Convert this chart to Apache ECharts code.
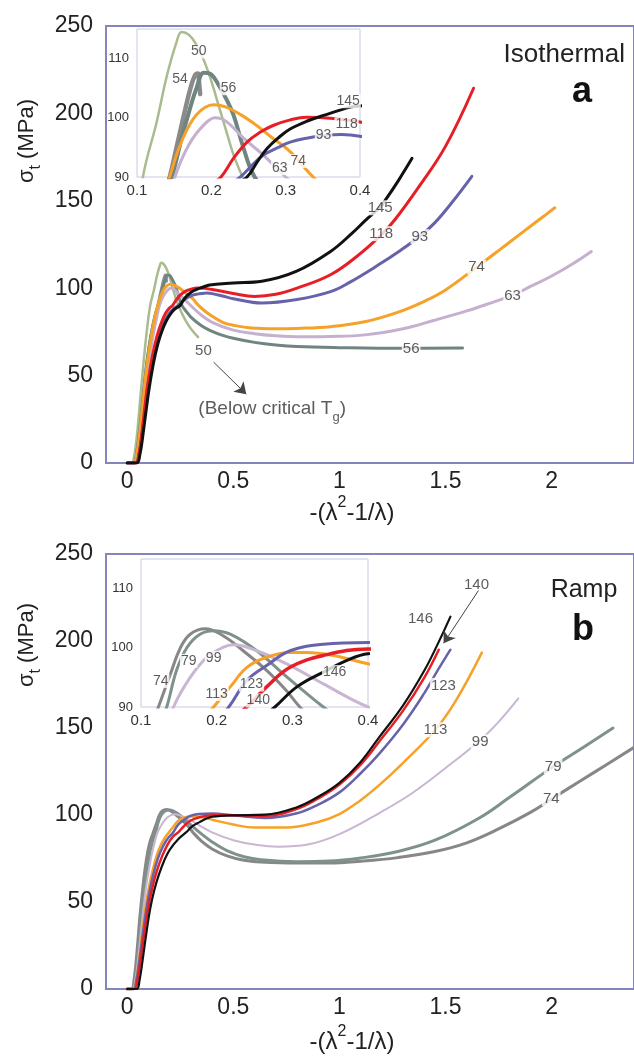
<!DOCTYPE html>
<html>
<head>
<meta charset="utf-8">
<script src="https://cdn.jsdelivr.net/npm/echarts@6/dist/echarts.min.js"></script>
<style>
html,body{margin:0;padding:0;background:#fff;}
#chart{width:634px;height:1059px;}
</style>
</head>
<body>
<div id="chart"></div>
<script>
// tick labels
var mainXTicks = [0, 0.5, 1, 1.5, 2];
var insetXTicks = [0.1, 0.2, 0.3, 0.4];
var insetYTicks = [90, 100, 110];

// (a) isothermal curves, [strain, stress]
var iso50 = [[0,0],[0.02,0],[0.03,2],[0.045,15],[0.06,35],[0.075,55],[0.09,73],[0.108,90],[0.1265,99.3],[0.14,107],[0.153,112.7],[0.16,114.5],[0.17,114],[0.18,112.3],[0.19,109.7],[0.2,106.2],[0.21,102],[0.22,97.8],[0.23,93.7],[0.242,90],[0.26,85],[0.28,80.5],[0.3,76.8],[0.334,72]];
var iso54 = [[0,0],[0.03,0],[0.045,6],[0.06,20],[0.075,38],[0.09,55],[0.105,68],[0.12,78],[0.133,85],[0.144,90],[0.155,96],[0.165,101.5],[0.172,105],[0.178,107.2],[0.182,107.5],[0.1835,106],[0.185,104]];
var iso56 = [[0,0],[0.03,0],[0.045,6],[0.06,20],[0.075,38],[0.09,55],[0.105,68],[0.12,78],[0.135,86],[0.147,90],[0.16,96.5],[0.17,101],[0.18,105],[0.19,107.6],[0.2,107.3],[0.21,105.5],[0.22,103.2],[0.23,100.4],[0.243,95],[0.257,90.3],[0.28,86.5],[0.3,83.5],[0.35,78.5],[0.4,75.3],[0.45,73],[0.505,71.2],[0.6,69],[0.7,67.5],[0.8,66.6],[1.0,66],[1.3,65.6],[1.58,65.8]];
var iso63 = [[0,0],[0.035,0],[0.05,5],[0.065,18],[0.08,35],[0.095,51],[0.11,64],[0.125,75],[0.14,84],[0.151,90],[0.17,95.5],[0.19,98.8],[0.205,100],[0.22,99.4],[0.243,96.6],[0.27,93.7],[0.3,90],[0.35,84.5],[0.4,80.5],[0.5,76],[0.6,74],[0.7,72.8],[0.8,72.2],[0.95,72.4],[1.12,73.3],[1.3,76.8],[1.443,81.5],[1.6,87],[1.7,91],[1.816,96],[1.9,101],[2.0,107],[2.1,114],[2.187,121]];
var iso74 = [[0,0],[0.03,0],[0.045,5],[0.06,18],[0.075,36],[0.09,53],[0.105,66],[0.12,77],[0.133,85],[0.144,90],[0.16,96],[0.18,100.5],[0.203,102.2],[0.22,101.8],[0.24,100.5],[0.261,98.7],[0.28,96.8],[0.306,94.3],[0.337,90],[0.37,86.5],[0.4,84],[0.45,80.5],[0.5,78.8],[0.585,77.2],[0.7,76.8],[0.8,77],[0.958,78],[1.119,80.8],[1.281,86.5],[1.4,92.5],[1.5,99],[1.646,112],[1.75,121.5],[1.85,130.8],[1.95,140],[2.015,146]];
var iso93 = [[0,0],[0.04,0],[0.055,5],[0.07,17],[0.085,32],[0.1,46],[0.12,60],[0.14,70],[0.16,77],[0.18,82],[0.2,85.8],[0.22,88.3],[0.239,90],[0.255,92],[0.27,93.7],[0.29,95],[0.306,95.9],[0.33,96.6],[0.351,97],[0.375,97.2],[0.4,96.9],[0.45,95.5],[0.5,94],[0.634,91.5],[0.8,93.5],[0.958,98],[1.05,103.5],[1.186,113.5],[1.28,121],[1.382,130],[1.45,137.5],[1.53,149],[1.624,164]];
var iso118 = [[0,0],[0.04,0],[0.055,5],[0.07,18],[0.085,34],[0.1,48],[0.12,62],[0.14,72.5],[0.16,80],[0.18,85.5],[0.2,88.8],[0.213,90],[0.23,93.2],[0.248,95.9],[0.265,97.5],[0.283,98.7],[0.305,99.6],[0.328,100.1],[0.364,99.9],[0.4,99.3],[0.5,97],[0.601,95.3],[0.7,96.5],[0.8,100],[0.958,107.7],[1.08,118],[1.197,130.5],[1.26,139],[1.374,158],[1.499,181],[1.632,214.4]];
var iso145 = [[0,0],[0.045,0],[0.06,5],[0.075,17],[0.09,31],[0.105,44],[0.125,58],[0.145,68.5],[0.165,76],[0.185,81.5],[0.205,85.5],[0.225,88.2],[0.248,90],[0.262,92.6],[0.275,94.8],[0.29,96.6],[0.306,98.1],[0.33,99.5],[0.351,100.4],[0.387,101.8],[0.4,102],[0.5,103],[0.634,104],[0.796,109.6],[0.958,121],[1.06,131.5],[1.12,138.5],[1.192,146.5],[1.217,150.5],[1.28,162],[1.342,174.3]];

// (b) ramp curves
var ramp74 = [[0,0],[0.02,0],[0.032,5],[0.045,20],[0.06,42],[0.075,60],[0.09,74],[0.105,83.5],[0.123,90],[0.139,95.6],[0.152,100],[0.165,102.3],[0.185,103.2],[0.209,102],[0.235,99.5],[0.266,96.2],[0.292,92.8],[0.31,90],[0.35,85],[0.4,80.5],[0.47,76.5],[0.55,74],[0.63,73],[0.8,72.4],[0.953,72.4],[1.1,73.4],[1.275,75.5],[1.45,79],[1.6,84],[1.75,92],[1.9,101.5],[1.998,109],[2.062,114],[2.2,124.5],[2.39,139]];
var ramp79 = [[0,0],[0.025,0],[0.037,5],[0.05,19],[0.065,39],[0.08,57],[0.095,70],[0.11,80],[0.122,86],[0.134,90],[0.147,96.2],[0.161,100.1],[0.178,102.3],[0.196,102.9],[0.218,102.3],[0.253,99.5],[0.288,95.6],[0.314,92.8],[0.341,90],[0.4,84.5],[0.47,79.5],[0.55,76],[0.63,74.3],[0.8,73.2],[0.95,73.5],[1.1,75.3],[1.275,79],[1.45,85.5],[1.655,98],[1.8,110],[2.007,127.8],[2.15,139],[2.289,150]];
var ramp99 = [[0,0],[0.025,0],[0.038,5],[0.052,18],[0.068,37],[0.085,55],[0.1,67],[0.115,77],[0.13,84.5],[0.143,90],[0.165,95],[0.187,98.4],[0.209,100.1],[0.222,100.5],[0.253,99.5],[0.297,97],[0.341,93.9],[0.4,90],[0.5,85.5],[0.6,83],[0.712,81.8],[0.85,83],[1.0,89],[1.186,101],[1.342,112.5],[1.5,127],[1.663,143],[1.75,153.5],[1.843,167]];
var ramp113 = [[0,0],[0.03,0],[0.042,5],[0.056,17],[0.072,34],[0.09,50],[0.11,63],[0.13,73],[0.15,80.5],[0.175,86.5],[0.196,90],[0.218,93.4],[0.24,96.7],[0.266,98.4],[0.297,99.2],[0.319,99.2],[0.354,98.7],[0.4,97.3],[0.5,94.5],[0.6,92.8],[0.75,92.8],[0.9,96],[1.0,100.5],[1.1,108.5],[1.186,117],[1.3,130],[1.452,149],[1.55,166],[1.671,193.3]];
var ramp123 = [[0,0],[0.03,0],[0.043,5],[0.058,17],[0.075,33],[0.093,48],[0.112,60],[0.132,70],[0.155,78.5],[0.185,85.5],[0.216,90],[0.24,94.5],[0.266,97],[0.297,99.5],[0.341,100.6],[0.4,100.9],[0.5,99.8],[0.65,98.3],[0.8,101],[0.9,106],[1.0,113],[1.1,124],[1.186,135],[1.3,152],[1.4,170],[1.46,182.5],[1.523,195]];
var ramp140 = [[0,0],[0.035,0],[0.048,5],[0.063,17],[0.08,32],[0.098,46],[0.118,58],[0.14,68],[0.165,76.5],[0.19,83],[0.215,87.5],[0.24,90],[0.266,93.4],[0.297,96.7],[0.341,98.7],[0.4,99.8],[0.5,99.8],[0.65,99.5],[0.8,103.5],[0.9,109.5],[1.0,117.5],[1.1,129],[1.186,142],[1.3,160],[1.4,179],[1.468,195]];
var ramp146 = [[0,0],[0.045,0],[0.058,5],[0.073,17],[0.09,32],[0.108,46],[0.128,57],[0.15,66],[0.175,74],[0.2,80],[0.24,86],[0.277,90],[0.306,93.4],[0.341,95.9],[0.376,98.1],[0.4,99],[0.5,99.8],[0.65,100.2],[0.8,104.5],[0.9,110.5],[1.0,118.5],[1.1,130.5],[1.186,144.5],[1.3,163],[1.4,183],[1.468,199.5],[1.523,214]];

// curve tags [x, y, text]
var isoTags = [[1.192,146,'145'],[1.197,131.2,'118'],[1.379,129.5,'93'],[1.646,112,'74'],[1.816,95.6,'63'],[1.338,65.2,'56'],[0.359,64.4,'50']];
var isoInsetTags = [[0.183,111.2,'50'],[0.158,106.6,'54'],[0.223,105,'56'],[0.292,91.5,'63'],[0.317,92.7,'74'],[0.351,97,'93'],[0.382,98.9,'118'],[0.384,102.8,'145']];
var rampTags = [[1.998,109.5,'74'],[2.007,127.8,'79'],[1.663,142,'99'],[1.452,149,'113'],[1.49,174.5,'123'],[1.382,213,'146'],[1.646,232,'140']];
var rampInsetTags = [[0.126,94.4,'74'],[0.163,97.8,'79'],[0.196,98.3,'99'],[0.2,92.2,'113'],[0.246,93.8,'123'],[0.255,91.1,'140'],[0.356,95.9,'146']];
var isoNote = [[0.683,30.8,'(Below critical T{g|g})']];
var isoArrow = [[0.407,57.7],[0.561,39.4]];
var rampArrow = [[1.655,229],[1.491,198.7]];

var FONT = '"Liberation Sans", Arial, sans-serif';
var myChart = echarts.init(document.getElementById('chart'));

function curve(data, color, width, gi){
    return {
        type:'line', data:data, xAxisIndex:gi, yAxisIndex:gi,
        symbol:'none', smooth:0.4, silent:true, animation:false, z:2,
        lineStyle:{color:color, width:width, cap:'round'}
    };
}

function tags(list, gi, size, bg){
    return {
        type:'scatter', xAxisIndex:gi, yAxisIndex:gi, silent:true, animation:false, z:5,
        symbol:'circle', symbolSize:0.1, itemStyle:{color:'rgba(0,0,0,0)'},
        data:list.map(function(t){ return {value:[t[0],t[1]], name:t[2]}; }),
        label:{
            show:true, position:'inside', color:'#333', fontSize:size, fontFamily:FONT,
            backgroundColor: bg ? '#fff' : 'transparent', padding:[0,1],
            formatter:function(p){ return p.name; },
            rich:{ g:{fontSize:13, fontFamily:FONT, color:'#333', verticalAlign:'bottom', lineHeight:30} }
        }
    };
}

function arrow(pts, gi){
    return {
        type:'scatter', xAxisIndex:gi, yAxisIndex:gi, data:[], silent:true, animation:false,
        markLine:{
            silent:true, animation:false, symbol:['none','arrow'], symbolSize:11,
            label:{show:false}, lineStyle:{color:'#444', width:1, type:'solid'},
            data:[[{coord:pts[0]},{coord:pts[1]}]]
        }
    };
}

function mainX(gi){
    return {
        type:'value', gridIndex:gi, min:-0.1, max:2.388,
        axisLine:{show:false}, axisTick:{show:false}, splitLine:{show:false},
        axisLabel:{customValues:mainXTicks, fontSize:23, color:'#222', fontFamily:FONT, margin:7,
            formatter:function(v){ return String(v); }}
    };
}
function mainY(gi){
    return {
        type:'value', gridIndex:gi, min:0, max:250, interval:50,
        axisLine:{show:false}, axisTick:{show:false}, splitLine:{show:false},
        axisLabel:{fontSize:23, color:'#222', fontFamily:FONT, margin:13}
    };
}
function insetX(gi){
    return {
        type:'value', gridIndex:gi, min:0.1, max:0.4,
        axisLine:{show:false}, axisTick:{show:false}, splitLine:{show:false},
        axisLabel:{customValues:insetXTicks, fontSize:15, color:'#333', fontFamily:FONT, margin:6,
            formatter:function(v){ return v.toFixed(1); }}
    };
}
function insetY(gi){
    return {
        type:'value', gridIndex:gi, min:90, max:115,
        axisLine:{show:false}, axisTick:{show:false}, splitLine:{show:false},
        axisLabel:{customValues:insetYTicks, fontSize:13, color:'#333', fontFamily:FONT, margin:8}
    };
}

var series = [
    // (a) main
    curve(iso50,'#a9bb8f',2.5,0), curve(iso54,'#8a8a8a',3,0), curve(iso56,'#6f8582',3,0),
    curve(iso63,'#c5b0cf',3,0), curve(iso74,'#f6a228',3,0), curve(iso93,'#6663ab',3,0),
    curve(iso118,'#e61f27',3,0), curve(iso145,'#111111',3,0),
    // (a) inset
    curve(iso50,'#a9bb8f',2.5,1), curve(iso54,'#8a8a8a',4.5,1), curve(iso56,'#6f8582',4,1),
    curve(iso63,'#c5b0cf',3,1), curve(iso74,'#f6a228',3,1), curve(iso93,'#6663ab',3,1),
    curve(iso118,'#e61f27',3,1), curve(iso145,'#111111',3,1),
    // (b) main
    curve(ramp74,'#878787',3,2), curve(ramp79,'#7f918c',3,2), curve(ramp99,'#c9b6d3',2,2),
    curve(ramp113,'#f6a228',2.5,2), curve(ramp123,'#6663ab',2.5,2), curve(ramp140,'#e61f27',2.5,2),
    curve(ramp146,'#111111',2.2,2),
    // (b) inset
    curve(ramp74,'#878787',3,3), curve(ramp79,'#7f918c',3,3), curve(ramp99,'#c9b6d3',3,3),
    curve(ramp113,'#f6a228',3,3), curve(ramp123,'#6663ab',3,3), curve(ramp140,'#e61f27',3.5,3),
    curve(ramp146,'#111111',3,3),
    tags(isoTags,0,15,true), tags(isoInsetTags,1,14,true), tags(isoNote,0,19,false),
    tags(rampTags.slice(0,5),2,15,true), tags(rampTags.slice(5),2,15,false), tags(rampInsetTags,3,14,true),
    arrow(isoArrow,0), arrow(rampArrow,2)
];

function title(x, y, text, rot, size){
    return {
        type:'text', x:x, y:y, rotation:rot || 0, silent:true,
        style:{
            text:text, align:'center', verticalAlign:'middle', fill:'#222', fontFamily:FONT,
            rich:{
                n:{fontSize:size, lineHeight:size + 12, fontFamily:FONT, fill:'#222'},
                s:{fontSize:Math.round(size*0.68), lineHeight:Math.round(size*0.68), fontFamily:FONT, fill:'#222', verticalAlign:'top'},
                t:{fontSize:Math.round(size*0.72), lineHeight:Math.round(size*0.72), fontFamily:FONT, fill:'#222', verticalAlign:'bottom'}
            }
        }
    };
}

myChart.setOption({
    backgroundColor:'#fff',
    animation:false,
    grid:[
        {left:106, top:26, width:530, height:437, show:true, borderColor:'#8385bb', borderWidth:2, backgroundColor:'#fff'},
        {left:137, top:29, width:223, height:148, show:true, borderColor:'#cacae4', borderWidth:1, backgroundColor:'#fff', z:1},
        {left:106, top:554, width:530, height:435, show:true, borderColor:'#8385bb', borderWidth:2, backgroundColor:'#fff'},
        {left:141, top:559, width:227, height:148, show:true, borderColor:'#cacae4', borderWidth:1, backgroundColor:'#fff', z:1}
    ],
    xAxis:[mainX(0), insetX(1), mainX(2), insetX(3)],
    yAxis:[mainY(0), insetY(1), mainY(2), insetY(3)],
    series:series,
    graphic:[
        title(27, 141, '{n|σ}{t|t}{n| (MPa)}', Math.PI/2, 22),
        title(27, 645, '{n|σ}{t|t}{n| (MPa)}', Math.PI/2, 22),
        title(352, 513, '{n|-(λ}{s|2}{n|-1/λ)}', 0, 24),
        title(352, 1042, '{n|-(λ}{s|2}{n|-1/λ)}', 0, 24),
        {type:'text', x:625, y:55, silent:true, style:{text:'Isothermal', align:'right', verticalAlign:'middle', fontSize:26, fontFamily:FONT, fill:'#222'}},
        {type:'text', x:582, y:92, silent:true, style:{text:'a', align:'center', verticalAlign:'middle', fontSize:36, fontWeight:'bold', fontFamily:FONT, fill:'#111'}},
        {type:'text', x:584, y:590, silent:true, style:{text:'Ramp', align:'center', verticalAlign:'middle', fontSize:25, fontFamily:FONT, fill:'#222'}},
        {type:'text', x:583, y:630, silent:true, style:{text:'b', align:'center', verticalAlign:'middle', fontSize:36, fontWeight:'bold', fontFamily:FONT, fill:'#111'}}
    ]
});
</script>
</body>
</html>
